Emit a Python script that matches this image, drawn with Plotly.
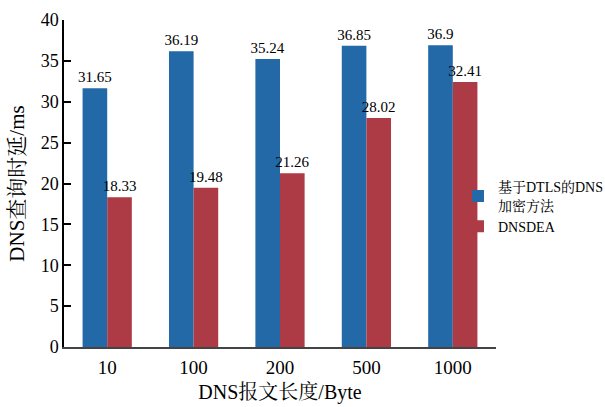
import plotly.graph_objects as go

categories = ["10", "100", "200", "500", "1000"]
dtls_values = [31.65, 36.19, 35.24, 36.85, 36.9]
dnsdea_values = [18.33, 19.48, 21.26, 28.02, 32.41]
dtls_name = "基于DTLS的DNS<br>加密方法"
dnsdea_name = "DNSDEA"
y_ticks = [0, 5, 10, 15, 20, 25, 30, 35, 40]

FONT = "Liberation Serif, Times New Roman, Noto Serif CJK SC, Noto Sans CJK SC, serif"

fig = go.Figure()
fig.add_trace(go.Bar(
    x=categories, y=dtls_values, name=dtls_name,
    marker=dict(color="#2368A7", line=dict(width=0)),
    text=[f"{v:g}" for v in dtls_values], textposition="outside",
    constraintext="none",
    textfont=dict(size=15, color="black", family=FONT), cliponaxis=False,
))
fig.add_trace(go.Bar(
    x=categories, y=dnsdea_values, name=dnsdea_name,
    marker=dict(color="#AD3B45", line=dict(width=0)),
    text=[f"{v:g}" for v in dnsdea_values], textposition="outside",
    constraintext="none",
    textfont=dict(size=15, color="black", family=FONT), cliponaxis=False,
))

fig.update_layout(
    width=605, height=407,
    margin=dict(l=64, r=109, t=20, b=60, autoexpand=False),
    paper_bgcolor="white", plot_bgcolor="white",
    font=dict(family=FONT, color="black"),
    barmode="group", bargap=0.43, bargroupgap=0,
    showlegend=True,
    legend=dict(xref="container", yref="container", x=0.757, y=0.492,
                xanchor="left", yanchor="middle",
                font=dict(size=14, family=FONT), tracegroupgap=8,
                itemwidth=30, bgcolor="rgba(0,0,0,0)"),
)
fig.update_xaxes(
    showline=True, linecolor="#444444", linewidth=1.5,
    ticks="", tickfont=dict(size=19, family=FONT), showgrid=False,
    ticklabelstandoff=2, automargin=False,
    title=dict(text="DNS报文长度/Byte", font=dict(size=20, family=FONT), standoff=8),
)
fig.update_yaxes(
    range=[0, 40], tickvals=y_ticks, showline=True, linecolor="black", linewidth=1.5,
    ticks="inside", ticklen=7, tickwidth=2, tickcolor="black",
    tickfont=dict(size=18, family=FONT), showgrid=False, zeroline=False,
    automargin=False,
    title=dict(text="DNS查询时延/ms", font=dict(size=21, family=FONT), standoff=10),
)

fig.write_html("out.html")
